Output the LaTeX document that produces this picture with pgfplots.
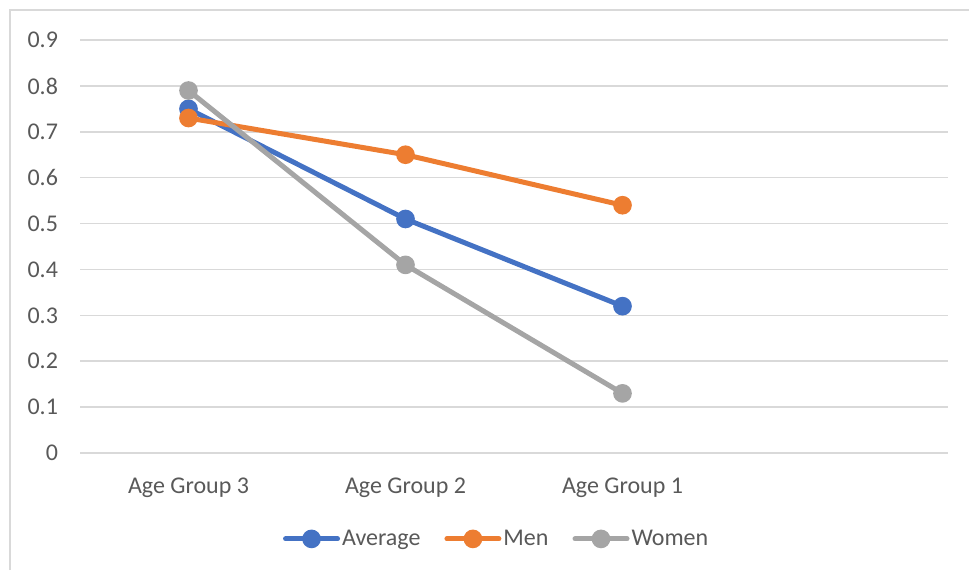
\documentclass[border=0pt]{standalone}
\usepackage{pgfplots}
\pgfplotsset{compat=1.18}
\usepackage{fontspec}
\setmainfont{Carlito}
\definecolor{cAvg}{HTML}{4472C4}
\definecolor{cMen}{HTML}{ED7D31}
\definecolor{cWom}{HTML}{A5A5A5}
\definecolor{cTxt}{HTML}{595959}
\definecolor{cGrid}{HTML}{D9D9D9}
\begin{document}
\begin{tikzpicture}[x=0.5pt,y=0.5pt]
\path[use as bounding box] (0,0) rectangle (969,570);
% chart frame
\draw[cGrid, line width=0.8pt] (10,0) -- (10,560) -- (969,560);
\begin{axis}[
  at={(40pt,58.5pt)}, anchor=south west,
  scale only axis, width=434pt, height=206.5pt,
  xmin=-0.5, xmax=3.5, ymin=0, ymax=0.9,
  xtick={0,1,2}, xticklabels={Age Group 3,Age Group 2,Age Group 1},
  ytick={0,0.1,...,0.9},
  yticklabel style={/pgf/number format/fixed, /pgf/number format/precision=1},
  /pgf/number format/assume math mode=true,
  ymajorgrids, major grid style={cGrid, line width=0.75pt},
  axis line style={draw=none},
  major tick length=0pt,
  tick label style={font=\fontsize{12}{14}\selectfont, text=cTxt},
  yticklabel style={xshift=-7.5pt},
  xticklabel style={yshift=-9pt},
  legend style={at={(0.48,-0.208)}, anchor=center, draw=none,
    font=\fontsize{12}{14}\selectfont, text=cTxt, legend columns=-1,
    nodes={inner xsep=1pt},
    /tikz/every even column/.append style={column sep=11pt}},
  legend image code/.code={%
    \draw[line width=2.5pt, line cap=round] (0,0) -- (26pt,0);
    \fill (13pt,0) circle (3.4pt);},
  every axis plot/.append style={line width=2.5pt, mark=*, mark size=3.4pt},
]
\addplot[cAvg, mark options={fill=cAvg, draw=cAvg}] coordinates {(0,0.75) (1,0.51) (2,0.32)};
\addlegendentry{Average}
\addplot[cMen, mark options={fill=cMen, draw=cMen}] coordinates {(0,0.73) (1,0.65) (2,0.54)};
\addlegendentry{Men}
\addplot[cWom, mark options={fill=cWom, draw=cWom}] coordinates {(0,0.79) (1,0.41) (2,0.13)};
\addlegendentry{Women}
\end{axis}
\end{tikzpicture}
\end{document}
